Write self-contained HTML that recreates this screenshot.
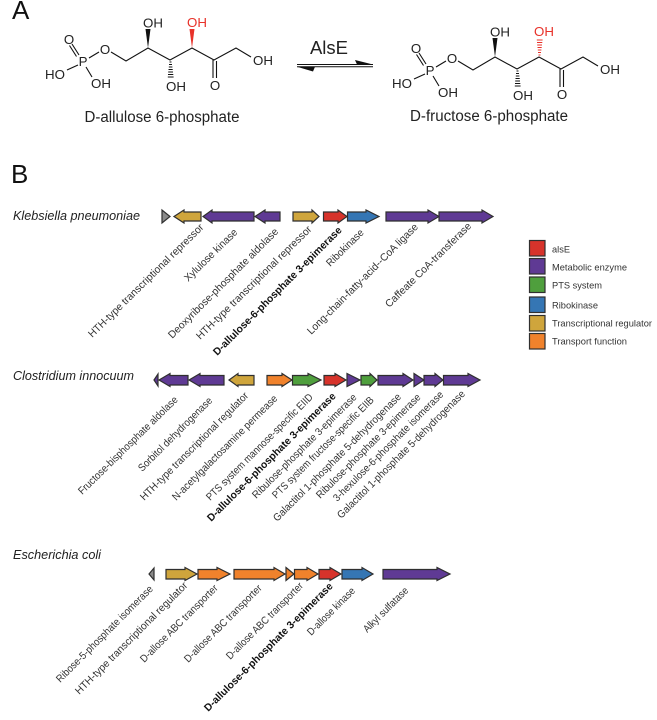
<!DOCTYPE html>
<html><head><meta charset="utf-8"><style>
html,body{margin:0;padding:0;background:#fff;width:657px;height:720px;overflow:hidden}
svg{display:block;font-family:"Liberation Sans",sans-serif;filter:blur(0.35px)}
.b{stroke:#111;stroke-width:1.1;fill:none}
.a{font-size:13.3px;fill:#222;text-anchor:middle}
.g{stroke:#2f2f2f;stroke-width:1.2;stroke-linejoin:miter}
.r{fill:#d7332b}.p{fill:#5f3a94}.n{fill:#4f9f3d}.u{fill:#3576b4}.y{fill:#cfa53c}.o{fill:#f0822c}.k{fill:#8a8a8a}
.l text{font-size:10.5px;fill:#333;dominant-baseline:central}
.l text.t{font-weight:bold;fill:#111}
.s{font-size:13.2px;font-style:italic;fill:#222}
.e{font-size:9.5px;fill:#333}
</style></head><body>
<svg width="657" height="720" viewBox="0 0 657 720" xmlns="http://www.w3.org/2000/svg">
<text x="12" y="19" font-size="26" fill="#111">A</text>
<text x="11" y="183" font-size="26" fill="#111">B</text>

<!-- left molecule -->
<g>
<path class="b" d="M79 55L72 44M76.5 56.5L69.5 45.5M89 58L99 52M78 65L67 70M86 67L92 77M111 52L126 61L148 48L170 60L192 48L214 60L236 48L251 57M213 60V78M216.5 61V78"/>
<polygon points="148,48 145.5,29 150.5,29" fill="#111"/>
<polygon points="192,48 189.5,29 194.5,29" fill="#e8322a"/>
<path class="b" d="M169.5 62h2M169 64.5h3M168.8 67h3.6M168.5 69.5h4.2M168.2 72h4.8M168 74.5h5.3M167.8 77h5.8"/>
<text class="a" x="69" y="44">O</text><text class="a" x="83" y="66">P</text><text class="a" x="105" y="54">O</text>
<text class="a" x="55" y="79">HO</text><text class="a" x="101" y="88">OH</text>
<text class="a" x="153" y="27.500">OH</text><text class="a" x="176" y="91">OH</text>
<text class="a" x="197" y="27" style="fill:#e8322a">OH</text>
<text class="a" x="215" y="90">O</text><text class="a" x="263" y="65">OH</text>
</g>
<text x="162" y="122" font-size="15.500" text-anchor="middle" fill="#222" textLength="155" lengthAdjust="spacingAndGlyphs">D-allulose 6-phosphate</text>

<!-- arrows -->
<text x="329" y="54" font-size="18.500" text-anchor="middle" fill="#222">AlsE</text>
<path d="M297 64.500H373M297 66.800H373" stroke="#111" stroke-width="1" fill="none"/>
<polygon points="355,60 373,64.500 357,64.500" fill="#111"/>
<polygon points="297,66.800 315,66.800 313,71.500" fill="#111"/>

<!-- right molecule -->
<g transform="translate(347 9)">
<path class="b" d="M79 55L72 44M76.5 56.5L69.5 45.5M89 58L99 52M78 65L67 70M86 67L92 77M111 52L126 61L148 48L170 60L192 48L214 60L236 48L251 57M213 60V78M216.5 61V78"/>
<polygon points="148,48 145.5,29 150.5,29" fill="#111"/>
<path stroke="#e8322a" stroke-width="1" fill="none" d="M191.500 46h2M191 43.500h3M190.800 41h3.600M190.500 38.500h4.200M190.200 36h4.800M190 33.500h5.300M189.800 31h5.800"/>
<path class="b" d="M169.5 62h2M169 64.5h3M168.8 67h3.6M168.5 69.5h4.2M168.2 72h4.8M168 74.5h5.3M167.8 77h5.8"/>
<text class="a" x="69" y="44">O</text><text class="a" x="83" y="66">P</text><text class="a" x="105" y="54">O</text>
<text class="a" x="55" y="79">HO</text><text class="a" x="101" y="88">OH</text>
<text class="a" x="153" y="27.500">OH</text><text class="a" x="176" y="91">OH</text>
<text class="a" x="197" y="27" style="fill:#e8322a">OH</text>
<text class="a" x="215" y="90">O</text><text class="a" x="263" y="65">OH</text>
</g>
<text x="489" y="121" font-size="15.500" text-anchor="middle" fill="#222" textLength="158" lengthAdjust="spacingAndGlyphs">D-fructose 6-phosphate</text>

<!-- species -->
<text class="s" x="13" y="220" textLength="127" lengthAdjust="spacingAndGlyphs">Klebsiella pneumoniae</text>
<text class="s" x="13" y="380" textLength="121" lengthAdjust="spacingAndGlyphs">Clostridium innocuum</text>
<text class="s" x="13" y="559" textLength="88" lengthAdjust="spacingAndGlyphs">Escherichia coli</text>

<!-- row 1 genes -->
<g class="g">
<polygon class="k" points="162,210 162,223 170,216.500"/>
<polygon class="y" points="174,216.500 184,210 184,212 201,212 201,221 184,221 184,223"/>
<polygon class="p" points="203,216.500 212,210 212,212 254,212 254,221 212,221 212,223"/>
<polygon class="p" points="255,216.500 265,210 265,212 280,212 280,221 265,221 265,223"/>
<polygon class="y" points="293,212 312,212 312,210 319,216.500 312,223 312,221 293,221"/>
<polygon class="r" points="323.500,212 338,212 338,210 347,216.500 338,223 338,221 323.500,221"/>
<polygon class="u" points="347.500,212 366,212 366,210 379,216.500 366,223 366,221 347.500,221"/>
<polygon class="p" points="386,212 428,212 428,210 439,216.500 428,223 428,221 386,221"/>
<polygon class="p" points="439,212 482,212 482,210 493,216.500 482,223 482,221 439,221"/>
</g>

<!-- row 2 genes -->
<g class="g">
<polygon class="p" points="154,380 158,374 158,386"/>
<polygon class="p" points="159,380 170,373.500 170,375.500 188,375.500 188,385 170,385 170,386.500"/>
<polygon class="p" points="189,380 200,373.500 200,375.500 224,375.500 224,385 200,385 200,386.500"/>
<polygon class="y" points="229,380 238,373.500 238,375.500 254,375.500 254,385 238,385 238,386.500"/>
<polygon class="o" points="267,375.500 282,375.500 282,373.500 292,380 282,386.500 282,385 267,385"/>
<polygon class="n" points="292.500,375.500 308,375.500 308,373.500 321,380 308,386.500 308,385 292.500,385"/>
<polygon class="r" points="324,375.500 335,375.500 335,373.500 346,380 335,386.500 335,385 324,385"/>
<polygon class="p" points="347,373.500 360,380 347,386.500"/>
<polygon class="n" points="361,375.500 370,375.500 370,373.500 377,380 370,386.500 370,385 361,385"/>
<polygon class="p" points="378,375.500 403,375.500 403,373.500 413,380 403,386.500 403,385 378,385"/>
<polygon class="p" points="414,373.500 424,380 414,386.500"/>
<polygon class="p" points="424,375.500 435,375.500 435,373.500 443,380 435,386.500 435,385 424,385"/>
<polygon class="p" points="443.500,375.500 468,375.500 468,373.500 480,380 468,386.500 468,385 443.500,385"/>
</g>

<!-- row 3 genes -->
<g class="g">
<polygon class="k" points="149,574 154,568 154,580"/>
<polygon class="y" points="166,569.500 185,569.500 185,567.500 197,574 185,580.500 185,579 166,579"/>
<polygon class="o" points="198,569.500 217,569.500 217,567.500 230,574 217,580.500 217,579 198,579"/>
<polygon class="o" points="234,569.500 274,569.500 274,567.500 285,574 274,580.500 274,579 234,579"/>
<polygon class="o" points="286,567.500 294,574 286,580.500"/>
<polygon class="o" points="294.500,569.500 307,569.500 307,567.500 318,574 307,580.500 307,579 294.500,579"/>
<polygon class="r" points="319,569.500 330,569.500 330,567.500 341,574 330,580.500 330,579 319,579"/>
<polygon class="u" points="342,569.500 362,569.500 362,567.500 373,574 362,580.500 362,579 342,579"/>
<polygon class="p" points="383,569.500 437,569.500 437,567.500 450,574 437,580.500 437,579 383,579"/>
</g>

<!-- row 1 labels -->
<g class="l">
<text x="3" transform="translate(88 338) rotate(-44.500)" textLength="157" lengthAdjust="spacingAndGlyphs">HTH-type transcriptional repressor</text>
<text x="3" transform="translate(184 282) rotate(-44.500)" textLength="70" lengthAdjust="spacingAndGlyphs">Xylulose kinase</text>
<text x="3" transform="translate(168 339) rotate(-45)" textLength="151" lengthAdjust="spacingAndGlyphs">Deoxyribose-phosphate aldolase</text>
<text x="3" transform="translate(196 340) rotate(-44.500)" textLength="157" lengthAdjust="spacingAndGlyphs">HTH-type transcriptional repressor</text>
<text x="3" class="t" transform="translate(213 356) rotate(-45)" textLength="177" lengthAdjust="spacingAndGlyphs">D-allulose-6-phosphate 3-epimerase</text>
<text x="3" transform="translate(326 267) rotate(-44.500)" textLength="48" lengthAdjust="spacingAndGlyphs">Ribokinase</text>
<text x="3" transform="translate(307 335) rotate(-45)" textLength="152" lengthAdjust="spacingAndGlyphs">Long-chain-fatty-acid--CoA ligase</text>
<text x="3" transform="translate(385 308) rotate(-44.500)" textLength="116" lengthAdjust="spacingAndGlyphs">Caffeate CoA-transferase</text>
</g>

<!-- row 2 labels -->
<g class="l">
<text x="3" transform="translate(78 495) rotate(-44.500)" textLength="135" lengthAdjust="spacingAndGlyphs">Fructose-bisphosphate aldolase</text>
<text x="3" transform="translate(138 472) rotate(-45)" textLength="100" lengthAdjust="spacingAndGlyphs">Sorbitol dehydrogenase</text>
<text x="3" transform="translate(140 501) rotate(-45)" textLength="148" lengthAdjust="spacingAndGlyphs">HTH-type transcriptional regulator</text>
<text x="3" transform="translate(172 501) rotate(-45)" textLength="144" lengthAdjust="spacingAndGlyphs">N-acetylgalactosamine permease</text>
<text x="3" transform="translate(206 501) rotate(-45)" textLength="146" lengthAdjust="spacingAndGlyphs">PTS system mannose-specific EIID</text>
<text x="3" class="t" transform="translate(207 522) rotate(-45)" textLength="177" lengthAdjust="spacingAndGlyphs">D-allulose-6-phosphate 3-epimerase</text>
<text x="3" transform="translate(252 499) rotate(-45)" textLength="143" lengthAdjust="spacingAndGlyphs">Ribulose-phosphate 3-epimerase</text>
<text x="3" transform="translate(272 499) rotate(-45)" textLength="139" lengthAdjust="spacingAndGlyphs">PTS system fructose-specific EIIB</text>
<text x="3" transform="translate(273 522) rotate(-45)" textLength="176" lengthAdjust="spacingAndGlyphs">Galactitol 1-phosphate 5-dehydrogenase</text>
<text x="3" transform="translate(316 499) rotate(-45)" textLength="143" lengthAdjust="spacingAndGlyphs">Ribulose-phosphate 3-epimerase</text>
<text x="3" transform="translate(333 502) rotate(-45)" textLength="151" lengthAdjust="spacingAndGlyphs">3-hexulose-6-phosphate isomerase</text>
<text x="3" transform="translate(337 519) rotate(-45)" textLength="176" lengthAdjust="spacingAndGlyphs">Galactitol 1-phosphate 5-dehydrogenase</text>
</g>

<!-- row 3 labels -->
<g class="l">
<text x="3" transform="translate(56 683) rotate(-45)" textLength="132" lengthAdjust="spacingAndGlyphs">Ribose-5-phosphate isomerase</text>
<text x="3" transform="translate(75 695) rotate(-45)" textLength="154" lengthAdjust="spacingAndGlyphs">HTH-type transcriptional regulator</text>
<text x="3" transform="translate(140 663) rotate(-45)" textLength="105" lengthAdjust="spacingAndGlyphs">D-allose ABC transporter</text>
<text x="3" transform="translate(184 663) rotate(-45)" textLength="105" lengthAdjust="spacingAndGlyphs">D-allose ABC transporter</text>
<text x="3" transform="translate(226 660) rotate(-45)" textLength="104" lengthAdjust="spacingAndGlyphs">D-allose ABC transporter</text>
<text x="3" class="t" transform="translate(204 712) rotate(-45)" textLength="177" lengthAdjust="spacingAndGlyphs">D-allulose-6-phosphate 3-epimerase</text>
<text x="3" transform="translate(307 636) rotate(-45)" textLength="63" lengthAdjust="spacingAndGlyphs">D-allose kinase</text>
<text x="3" transform="translate(363 633) rotate(-45)" textLength="59" lengthAdjust="spacingAndGlyphs">Alkyl sulfatase</text>
</g>

<!-- legend -->
<g class="g">
<rect class="r" x="529.500" y="240.500" width="15.500" height="15.500"/>
<rect class="p" x="529.500" y="258.500" width="15.500" height="15.500"/>
<rect class="n" x="529.500" y="277" width="15.500" height="15.500"/>
<rect class="u" x="529.500" y="297" width="15.500" height="15.500"/>
<rect class="y" x="529.500" y="315.500" width="15.500" height="15.500"/>
<rect class="o" x="529.500" y="333.500" width="15.500" height="15.500"/>
</g>
<text class="e" x="552" y="252.500" textLength="18" lengthAdjust="spacingAndGlyphs">alsE</text>
<text class="e" x="552" y="270.500" textLength="75" lengthAdjust="spacingAndGlyphs">Metabolic enzyme</text>
<text class="e" x="552" y="288.500" textLength="50" lengthAdjust="spacingAndGlyphs">PTS system</text>
<text class="e" x="552" y="308.500" textLength="46" lengthAdjust="spacingAndGlyphs">Ribokinase</text>
<text class="e" x="552" y="326.500" textLength="100" lengthAdjust="spacingAndGlyphs">Transcriptional regulator</text>
<text class="e" x="552" y="344.500" textLength="75" lengthAdjust="spacingAndGlyphs">Transport function</text>
</svg>
</body></html>
